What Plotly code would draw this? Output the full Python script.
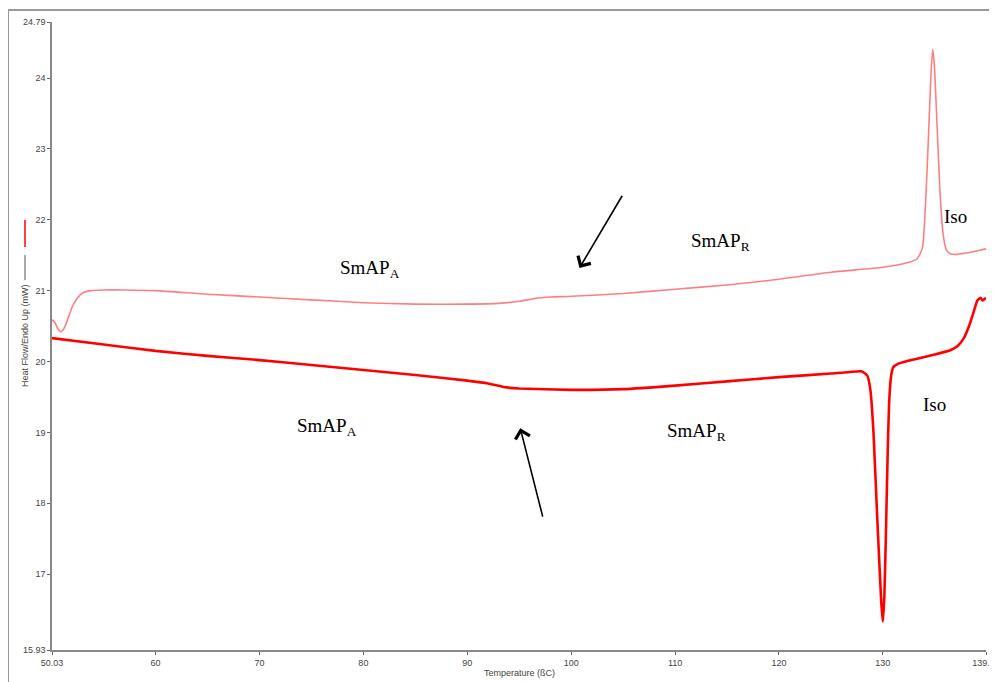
import plotly.graph_objects as go

# Upper curve (light red)
upper_t = [50.03, 50.3, 50.6, 50.9, 51.2, 51.6, 52.0, 52.5, 53.0, 53.7, 55, 57, 60, 65, 70, 75, 80, 85, 90, 93,
           95, 96.5, 98, 100, 105, 110, 115, 120, 125, 130, 132.5, 133.3, 133.8, 134.1, 134.4, 134.65, 134.8,
           134.95, 135.2, 135.5, 135.8, 136.1, 136.5, 137.0, 138.0, 139.0, 139.93]
upper_v = [20.59, 20.55, 20.46, 20.42, 20.47, 20.62, 20.78, 20.90, 20.97, 21.00, 21.01, 21.01, 21.00, 20.95, 20.91,
           20.87, 20.83, 20.81, 20.81, 20.82, 20.85, 20.89, 20.91, 20.92, 20.96, 21.02, 21.08, 21.16, 21.26, 21.33,
           21.40, 21.45, 21.6, 22.2, 23.2, 24.1, 24.40, 24.2, 23.4, 22.4, 21.8, 21.58, 21.52, 21.51, 21.53, 21.56,
           21.59]

# Lower curve (red)
lower_t = [50.03, 55, 60, 65, 70, 75, 80, 85, 90, 92, 93.5, 95, 100, 105, 110, 115, 120, 125, 127.5, 128.0, 128.5,
           128.8, 129.1, 129.4, 129.65, 129.85, 130.0, 130.15, 130.3, 130.45, 130.6, 130.8, 131.0, 131.5, 133, 135,
           136.5, 137.2, 137.8, 138.3, 138.7, 139.1, 139.4, 139.6, 139.93]
lower_v = [20.33, 20.24, 20.15, 20.08, 20.02, 19.95, 19.88, 19.81, 19.73, 19.69, 19.64, 19.62, 19.60, 19.61, 19.66,
           19.72, 19.78, 19.83, 19.86, 19.86, 19.8, 19.6, 19.0, 18.0, 17.2, 16.6, 16.33, 16.7, 17.6, 18.6, 19.4,
           19.8, 19.92, 19.97, 20.03, 20.10, 20.16, 20.22, 20.33, 20.50, 20.68, 20.86, 20.90, 20.86, 20.90]

x_tickvals = [50.03, 60, 70, 80, 90, 100, 110, 120, 130, 139.93]
x_ticktext = ["50.03", "60", "70", "80", "90", "100", "110", "120", "130", "139.93"]
y_tickvals = [15.93, 17, 18, 19, 20, 21, 22, 23, 24, 24.79]
y_ticktext = ["15.93", "17", "18", "19", "20", "21", "22", "23", "24", "24.79"]

# Phase labels: (text, T, value)
labels = [
    ("SmAP<sub>A</sub>", 80.6, 21.31),
    ("SmAP<sub>R</sub>", 114.4, 21.69),
    ("Iso", 137.0, 22.05),
    ("SmAP<sub>A</sub>", 76.5, 19.08),
    ("SmAP<sub>R</sub>", 112.1, 19.01),
    ("Iso", 135.0, 19.39),
]
# Arrows: (head T, head v, tail T, tail v)
arrows = [
    (100.8, 21.32, 105.0, 22.36),
    (95.1, 19.06, 97.3, 17.79),
]

fig = go.Figure()
fig.add_trace(go.Scatter(x=upper_t, y=upper_v, mode="lines",
                         line=dict(color="#ff7f7f", width=1.6, shape="spline", smoothing=0.6),
                         showlegend=False, hoverinfo="skip"))
fig.add_trace(go.Scatter(x=lower_t, y=lower_v, mode="lines",
                         line=dict(color="#ff0000", width=2.6, shape="spline", smoothing=0.4),
                         showlegend=False, hoverinfo="skip"))

serif = "Liberation Serif, Times New Roman, serif"
for text, t, v in labels:
    fig.add_annotation(x=t, y=v, xref="x", yref="y", text=text, showarrow=False,
                       font=dict(family=serif, size=19, color="black"))
for ht, hv, tt, tv in arrows:
    fig.add_annotation(x=ht, y=hv, ax=tt, ay=tv, xref="x", yref="y", axref="x", ayref="y",
                       text="", showarrow=True, arrowhead=4, arrowsize=1.8, arrowwidth=1.6,
                       arrowcolor="black")

sans = "Liberation Sans, Arial, sans-serif"
fig.add_annotation(x=-0.0289, y=0.5, xref="paper", yref="paper", text="Heat Flow/Endo Up (mW)",
                   textangle=-90, showarrow=False, font=dict(family=sans, size=9, color="#444"),
                   xanchor="center", yanchor="middle")
fig.add_annotation(x=0.5, y=-0.0366, xref="paper", yref="paper", text="Temperature (ßC)",
                   showarrow=False, font=dict(family=sans, size=9, color="#444"),
                   xanchor="center", yanchor="middle")

# legend marks beside the y title
fig.add_shape(type="line", xref="paper", yref="paper", x0=-0.0289, x1=-0.0289, y0=0.6417, y1=0.6847,
              line=dict(color="#ff0000", width=1.5))
fig.add_shape(type="line", xref="paper", yref="paper", x0=-0.0289, x1=-0.0289, y0=0.589, y1=0.629,
              line=dict(color="#555", width=1))
# outer frame (top and left edges)
fig.add_shape(type="line", xref="paper", yref="paper", x0=-0.0471, x1=1.02, y0=1.0191, y1=1.0191,
              line=dict(color="#999", width=2))
fig.add_shape(type="line", xref="paper", yref="paper", x0=-0.0471, x1=-0.0471, y0=1.0191, y1=-0.06,
              line=dict(color="#999", width=2))

fig.update_layout(
    width=989, height=674,
    margin=dict(l=44, r=11, t=14, b=32, pad=0, autoexpand=False),
    paper_bgcolor="white", plot_bgcolor="white",
    font=dict(family=sans, size=9, color="#444"),
    xaxis=dict(range=[50.03, 139.93], tickvals=x_tickvals, ticktext=x_ticktext, automargin=False,
               showgrid=False, zeroline=False, showline=True, linecolor="#888", linewidth=1.5,
               ticks="outside", ticklen=3, tickcolor="#666", tickfont=dict(size=9, color="#444"),
               ticklabeloverflow="allow"),
    yaxis=dict(range=[15.93, 24.79], tickvals=y_tickvals, ticktext=y_ticktext, automargin=False,
               showgrid=False, zeroline=False, showline=True, linecolor="#888", linewidth=1.5,
               ticks="outside", ticklen=3, tickcolor="#666", tickfont=dict(size=9, color="#444"),
               ticklabeloverflow="allow"),
)

fig.write_html("out.html")
